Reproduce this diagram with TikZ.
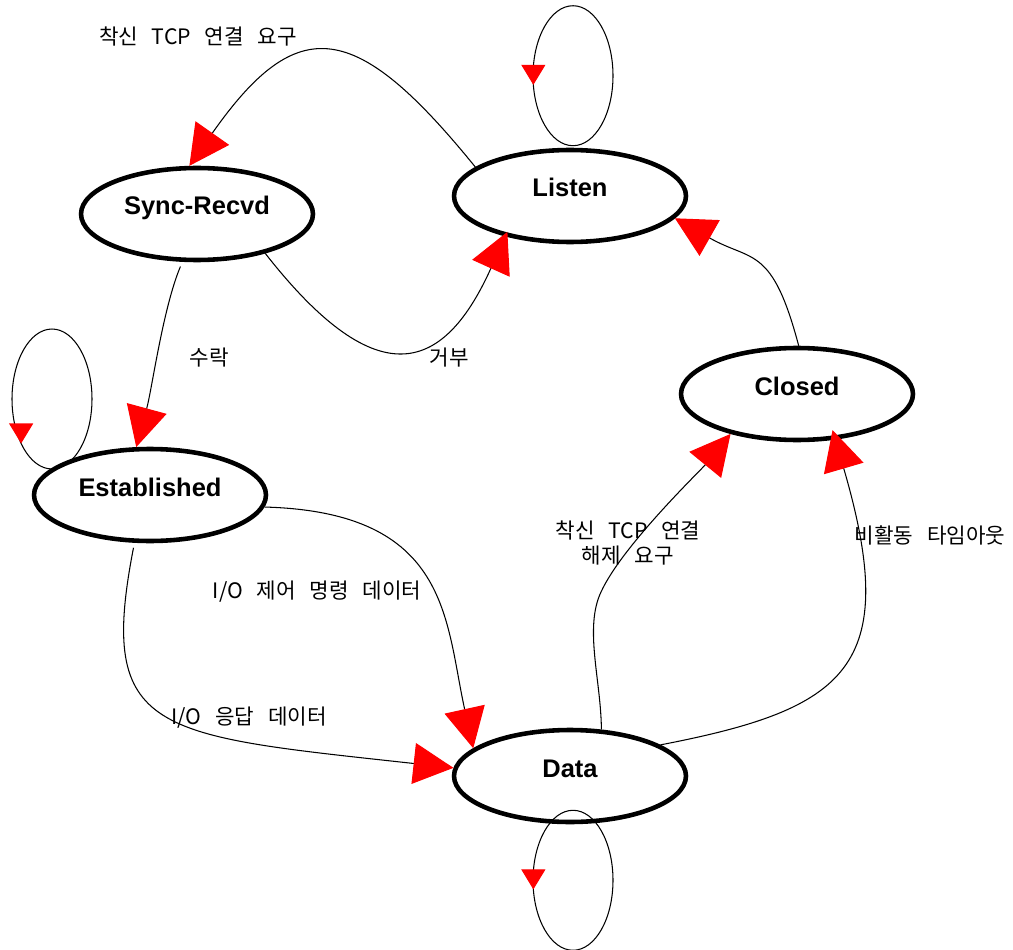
\documentclass[tikz,border=0pt]{standalone}
\usepackage{fontspec}
\newfontfamily\statefont{Liberation Sans}
\newfontfamily\krfont[WordSpace=2.9]{Noto Sans CJK KR}
\usetikzlibrary{arrows.meta,shapes.geometric,decorations.markings}

\begin{document}
\begin{tikzpicture}[x=0.02cm, y=0.02cm,
    state/.style={ellipse, draw, line width=2.6pt, minimum width=4.64cm, minimum height=1.84cm, inner sep=0pt,
      font=\statefont\bfseries\fontsize{14.5}{17}\selectfont, text height=0.36cm, text depth=0.32cm},
    trans/.style={line width=0.6pt, -{Triangle[length=0.8cm, width=0.82cm, color=red]}},
    selfloop/.style={line width=0.6pt, postaction={decorate},
      decoration={markings, mark=at position #1 with {\pgftransformresetnontranslations\pgftransformrotate{-90}
        \arrow{Triangle[length=0.4cm, width=0.48cm, color=red]}}}},
    lbl/.style={font=\krfont\fontsize{12.1}{14}\selectfont, inner sep=0pt}
  ]
\useasboundingbox (0,0) rectangle (1013,-949);

% States
\node[state] (listen) at (570,-196) {Listen};
\node[state] (sync) at (197,-214) {Sync-Recvd};
\node[state] (est) at (150,-495) {Established};
\node[state] (closed) at (797,-394) {Closed};
\node[state] (data) at (570,-776) {Data};

% Self loops
\draw[selfloop=0.526] (listen.north) ++(3,72) ellipse (0.8cm and 1.4cm);
\draw[selfloop=0.63] (est.center) ++(-98,96) ellipse (0.8cm and 1.4cm);
\draw[selfloop=0.526] (data.south) ++(3,-56) ellipse (0.8cm and 1.4cm);

% Transitions
\draw[trans] (listen.163) .. controls (356,-20) and (298,-11) .. (sync.99);
\draw[trans, shorten >=-0.1cm] (sync.-30) .. controls (380,-400) and (445,-370) .. (listen.212);
\draw[trans, shorten <=0.1cm] (sync.253) .. controls (163,-308) and (152,-389) .. (est.106);
\draw[trans] (est.-6) .. controls (450,-512) and (445,-620) .. (data.164);
\draw[trans, shorten <=0.1cm] (est.252) .. controls (97,-735) and (155,-735) .. (data.176);
\draw[trans] (data.56) .. controls (601,-680) and (584,-628) .. (601,-592)
  .. controls (622,-546) and (701,-470) .. (closed.211);
\draw[trans, shorten >=-0.2cm] (data.19) .. controls (846,-709) and (902,-668) .. (closed.-50);
\draw[trans] (closed.88) .. controls (772,-245) and (752,-262) .. (listen.-12);

% Transition labels
\node[lbl] (req) at (198,-37) {착신 TCP 연결 요구};
\node[lbl] (accept) at (209,-358) {수락};
\node[lbl] (reject) at (449,-358) {거부};
\node[lbl] (ctrl) at (317,-592) {I/O 제어 명령 데이터};
\node[lbl] (resp) at (249,-718) {I/O 응답 데이터};
\node[lbl, align=center] (release) at (628,-543) {착신 TCP 연결\\해제 요구};
\node[lbl] (timeout) at (930,-535) {비활동 타임아웃};

\end{tikzpicture}
\end{document}
